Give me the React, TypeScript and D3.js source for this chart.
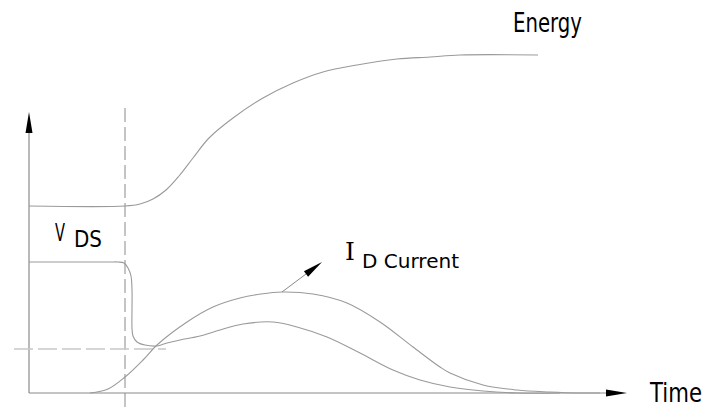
import React from "react";
import * as d3 from "d3";

// Switching waveform sketch: time in arbitrary units, amplitude in arbitrary units
const energy: [number, number][] = [
  [0, 187], [96, 187], [111, 189], [124, 194], [137, 203], [150, 217], [164, 235],
  [180, 255], [204, 275], [234, 295], [264, 310], [294, 321], [328, 328],
  [368, 334], [401, 336], [431, 338], [509, 338],
];

const vds: [number, number][] = [
  [0, 131], [81, 131], [89, 131], [95, 130], [99, 125], [102, 117], [103, 103],
  [103, 83], [103, 65], [104, 57], [108, 51], [116, 48], [128, 47], [138, 50],
  [151, 53], [171, 57], [191, 63], [214, 69], [244, 71], [268, 66],
  [298, 56], [331, 40], [364, 23], [391, 13], [421, 6], [454, 2], [488, 0], [531, 0],
];

const idCurrent: [number, number][] = [
  [61, 0], [79, 4], [96, 16], [114, 33], [128, 48], [158, 71], [184, 86],
  [211, 95], [232, 99], [253, 101], [284, 99], [318, 90], [351, 71], [384, 46],
  [411, 26], [421, 20], [454, 8], [488, 3], [521, 1], [548, 0], [571, 0],
];

// Switching instant and threshold level
const switchTime = 96;
const plateauLevel = 44;

// Pointer from the current curve to its label
const pointerFrom: [number, number] = [253, 101];
const pointerTo: [number, number] = [293, 131];

const W = 708;
const H = 412;

export default function App() {
  const x = d3.scaleLinear().domain([0, 598]).range([29, 627]);
  const y = d3.scaleLinear().domain([0, 281]).range([393, 112]);

  const smooth = d3
    .line<[number, number]>()
    .x((d) => x(d[0]))
    .y((d) => y(d[1]))
    .curve(d3.curveCatmullRom.alpha(0.5));

  const curveColor = "#9a9a9a";
  const font = "'DejaVu Sans', sans-serif";

  const x0 = x(0);
  const y0 = y(0);
  const xEnd = x(598);
  const yEnd = y(281);

  // pointer arrow geometry
  const px1 = x(pointerFrom[0]);
  const py1 = y(pointerFrom[1]);
  const px2 = x(pointerTo[0]);
  const py2 = y(pointerTo[1]);
  const ang = Math.atan2(py2 - py1, px2 - px1);
  const headLen = 20;
  const headW = 3.5;
  const bx = px2 - headLen * Math.cos(ang);
  const by = py2 - headLen * Math.sin(ang);
  const nx = -Math.sin(ang) * headW;
  const ny = Math.cos(ang) * headW;

  return (
    <svg
      width={W}
      height={H}
      style={{ position: "absolute", left: 0, top: 0, background: "#fff" }}
    >
      {/* axes */}
      <line x1={x0} y1={y0} x2={xEnd - 20} y2={y0} stroke="#8a8a8a" strokeWidth={1.2} />
      <path
        d={`M${xEnd},${y0} L${xEnd - 21},${y0 - 3.5} L${xEnd - 21},${y0 + 3.5} Z`}
        fill="#000"
      />
      <line x1={x0} y1={y0} x2={x0} y2={yEnd + 20} stroke="#8a8a8a" strokeWidth={1.2} />
      <path
        d={`M${x0},${yEnd} L${x0 - 3.5},${yEnd + 21} L${x0 + 3.5},${yEnd + 21} Z`}
        fill="#000"
      />

      {/* switching instant and plateau level */}
      <line
        x1={x(switchTime)}
        y1={108}
        x2={x(switchTime)}
        y2={H}
        stroke="#8a8a8a"
        strokeWidth={1}
        strokeDasharray="14 5"
      />
      <line
        x1={14}
        y1={y(plateauLevel)}
        x2={166}
        y2={y(plateauLevel)}
        stroke="#c8c8c8"
        strokeWidth={1.5}
        strokeDasharray="19 5"
      />

      {/* waveforms */}
      <path d={smooth(energy) ?? ""} fill="none" stroke={curveColor} strokeWidth={1.1} />
      <path d={smooth(vds) ?? ""} fill="none" stroke={curveColor} strokeWidth={1.1} />
      <path d={smooth(idCurrent) ?? ""} fill="none" stroke={curveColor} strokeWidth={1.1} />

      {/* pointer */}
      <line x1={px1} y1={py1} x2={bx} y2={by} stroke="#8a8a8a" strokeWidth={1} />
      <path
        d={`M${px2},${py2} L${bx + nx},${by + ny} L${bx - nx},${by - ny} Z`}
        fill="#000"
      />

      {/* labels */}
      <text x={513} y={32} fontFamily={font} fontSize={26} textLength={69} lengthAdjust="spacingAndGlyphs">
        Energy
      </text>
      <text x={55} y={240.5} fontFamily={font} fontSize={25} textLength={10} lengthAdjust="spacingAndGlyphs">
        V
      </text>
      <text x={74} y={246.5} fontFamily={font} fontSize={23} textLength={28} lengthAdjust="spacingAndGlyphs">
        DS
      </text>
      <text x={345} y={260} fontFamily="'DejaVu Serif', serif" fontSize={25}>
        I
      </text>
      <text x={362} y={267.5} fontFamily={font} fontSize={20} textLength={97} lengthAdjust="spacingAndGlyphs">
        D Current
      </text>
      <text x={650} y={402} fontFamily={font} fontSize={27} textLength={52} lengthAdjust="spacingAndGlyphs">
        Time
      </text>
    </svg>
  );
}
